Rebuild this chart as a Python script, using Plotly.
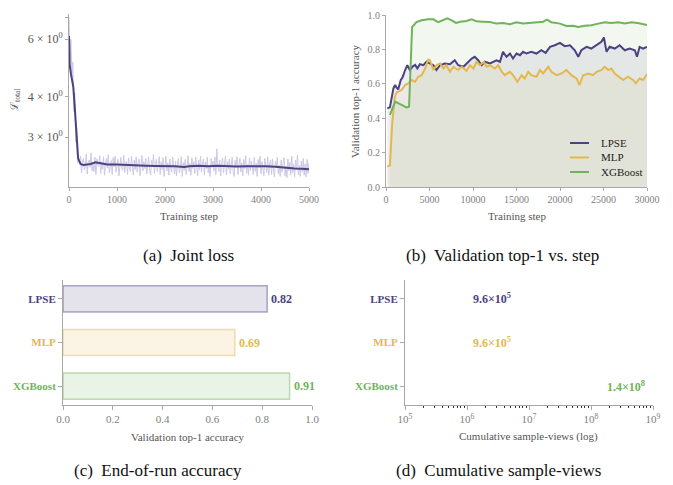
import plotly.graph_objects as go
import numpy as np

# ---------------- data ----------------
# (a) joint loss (raw, every 20 steps) and smoothed curve
loss_raw_steps = list(range(0, 5001, 20))
loss_raw = [
    7.00, 5.20, 6.00, 4.60, 5.10, 3.60, 4.10, 2.90, 3.20, 2.50, 2.60,
    2.48, 2.62, 2.33, 2.51, 2.58, 2.38, 2.44, 2.66, 2.31, 2.50,
    2.55, 2.42, 2.68, 2.36, 2.47, 2.35, 2.60, 2.30, 2.57, 2.45,
    2.44, 2.63, 2.32, 2.52, 2.39, 2.61, 2.29, 2.49, 2.58, 2.41,
    2.65, 2.33, 2.46, 2.54, 2.30, 2.59, 2.43, 2.62, 2.34, 2.51,
    2.56, 2.28, 2.48, 2.60, 2.40, 2.37, 2.64, 2.33, 2.47, 2.53,
    2.30, 2.59, 2.42, 2.35, 2.62, 2.45, 2.29, 2.55, 2.38, 2.61,
    2.34, 2.50, 2.57, 2.28, 2.44, 2.63, 2.36, 2.52, 2.40, 2.58,
    2.31, 2.47, 2.60, 2.37, 2.29, 2.55, 2.43, 2.65, 2.32, 2.49,
    2.56, 2.35, 2.44, 2.61, 2.30, 2.52, 2.38, 2.59, 2.27, 2.46,
    2.62, 2.36, 2.50, 2.29, 2.57, 2.41, 2.34, 2.60, 2.45, 2.31,
    2.53, 2.28, 2.48, 2.58, 2.33, 2.42, 2.61, 2.27, 2.50, 2.37,
    2.56, 2.30, 2.45, 2.63, 2.35, 2.49, 2.29, 2.59, 2.40, 2.52,
    2.32, 2.60, 2.43, 2.28, 2.55, 2.38, 2.62, 2.34, 2.47, 2.57,
    2.29, 2.51, 2.40, 2.60, 2.33, 2.46, 2.27, 2.58, 2.42, 2.53,
    2.36, 2.61, 2.30, 2.76, 2.44, 2.35, 2.55, 2.28, 2.49, 2.59,
    2.33, 2.45, 2.62, 2.29, 2.52, 2.39, 2.57, 2.31, 2.48, 2.60,
    2.35, 2.27, 2.54, 2.42, 2.61, 2.30, 2.46, 2.58, 2.34, 2.50,
    2.28, 2.56, 2.40, 2.63, 2.32, 2.47, 2.29, 2.59, 2.37, 2.53,
    2.43, 2.30, 2.60, 2.35, 2.49, 2.27, 2.56, 2.41, 2.62, 2.31,
    2.52, 2.36, 2.28, 2.58, 2.44, 2.33, 2.61, 2.29, 2.48, 2.55,
    2.30, 2.57, 2.38, 2.26, 2.53, 2.42, 2.60, 2.31, 2.46, 2.27,
    2.55, 2.34, 2.49, 2.59, 2.28, 2.44, 2.25, 2.57, 2.36, 2.51,
    2.29, 2.62, 2.33, 2.47, 2.26, 2.55, 2.38, 2.64, 2.30, 2.45,
    2.27, 2.53, 2.35, 2.58, 2.29, 2.48, 2.26, 2.56, 2.32, 2.50,
]
loss_smooth_steps = [0, 15, 40, 90, 120, 150, 190, 240, 300, 375, 450, 550, 650, 800,
                     1000, 1200, 1400, 1600, 1800, 2000, 2200, 2400, 2500, 2700, 2900,
                     3100, 3300, 3500, 3700, 3900, 4100, 4300, 4500, 4700, 4850, 5000]
loss_smooth = [6.14, 5.00, 4.70, 4.27, 3.70, 3.08, 2.58, 2.48, 2.46, 2.47, 2.48, 2.51, 2.49, 2.47,
               2.47, 2.46, 2.455, 2.45, 2.445, 2.445, 2.44, 2.425, 2.44, 2.45, 2.44,
               2.45, 2.44, 2.435, 2.44, 2.445, 2.44, 2.43, 2.41, 2.40, 2.395, 2.39]

# (b) validation top-1 vs step
lpse_steps = [150, 450, 850, 1050, 1200, 1400, 1700, 1900, 2200, 2450, 2750, 3050, 3350, 3600,
              3900, 4300, 4650, 5050, 5450, 5800, 6200, 6750, 7350, 7900, 8300, 8900, 9250,
              9850, 10200, 10600, 11000, 11350, 11950, 12300, 12700, 13100, 13450, 13850,
              14250, 14600, 15000, 15400, 15750, 16150, 16700, 17300, 17850, 18350, 18850,
              19400, 20000, 20550, 21150, 21700, 22100, 22450, 23050, 23600, 24200, 24750,
              25050, 25350, 25700, 26300, 26850, 27450, 28000, 28600, 28850, 29150, 29550, 30000]
lpse_acc = [0.457, 0.463, 0.573, 0.593, 0.579, 0.567, 0.622, 0.637, 0.680, 0.708, 0.680, 0.700,
            0.710, 0.690, 0.714, 0.708, 0.728, 0.718, 0.708, 0.680, 0.708, 0.718, 0.714, 0.737,
            0.708, 0.699, 0.718, 0.747, 0.757, 0.737, 0.708, 0.728, 0.718, 0.728, 0.737, 0.728,
            0.786, 0.757, 0.776, 0.747, 0.776, 0.766, 0.786, 0.776, 0.786, 0.776, 0.795, 0.780,
            0.815, 0.824, 0.838, 0.819, 0.824, 0.795, 0.757, 0.795, 0.815, 0.805, 0.824, 0.844,
            0.869, 0.786, 0.815, 0.805, 0.824, 0.795, 0.805, 0.795, 0.757, 0.815, 0.805, 0.815]

mlp_steps = [150, 450, 700, 1000, 1200, 1400, 1800, 2200, 2550, 2950, 3350, 3700, 4100, 4500,
             4850, 5050, 5450, 5800, 6200, 6600, 6950, 7350, 7750, 8300, 8700, 9250, 9650,
             10050, 10400, 10800, 11250, 11550, 11950, 12500, 12900, 13300, 13650, 14250,
             14600, 15100, 15600, 15950, 16350, 16700, 17300, 17700, 18050, 18650, 19000,
             19600, 20150, 20750, 21300, 21900, 22250, 22650, 23250, 23800, 24200, 24750,
             25150, 25550, 25900, 26300, 26850, 27250, 27800, 28400, 28700, 29150, 29550, 30000]
mlp_acc = [0.120, 0.125, 0.360, 0.520, 0.550, 0.554, 0.564, 0.593, 0.602, 0.622, 0.612, 0.641,
           0.650, 0.689, 0.741, 0.737, 0.680, 0.708, 0.718, 0.689, 0.708, 0.670, 0.699, 0.680,
           0.699, 0.676, 0.708, 0.689, 0.728, 0.708, 0.728, 0.699, 0.708, 0.689, 0.708, 0.670,
           0.650, 0.670, 0.650, 0.612, 0.650, 0.631, 0.670, 0.650, 0.641, 0.680, 0.660, 0.699,
           0.670, 0.650, 0.660, 0.680, 0.650, 0.631, 0.593, 0.650, 0.660, 0.650, 0.670, 0.680,
           0.699, 0.680, 0.689, 0.660, 0.641, 0.622, 0.641, 0.622, 0.602, 0.631, 0.622, 0.656]

xgb_steps = [450, 1050, 1800, 2350, 2650, 3000, 3500, 4100, 4850, 5450, 6000, 6600, 7050, 7550,
             8050, 8550, 9250, 9850, 10400, 11150, 11950, 12700, 13450, 14250, 15000, 15750,
             16550, 17300, 18050, 18500, 19000, 20000, 20750, 21500, 22100, 22850, 23600,
             24400, 25150, 25900, 26700, 27450, 28200, 28950, 29550, 30000]
xgb_acc = [0.419, 0.496, 0.477, 0.463, 0.467, 0.930, 0.959, 0.969, 0.975, 0.975, 0.959, 0.973,
           0.981, 0.969, 0.954, 0.961, 0.965, 0.975, 0.963, 0.961, 0.959, 0.950, 0.954, 0.946,
           0.958, 0.950, 0.954, 0.958, 0.961, 0.973, 0.958, 0.950, 0.936, 0.938, 0.930, 0.938,
           0.940, 0.950, 0.958, 0.954, 0.958, 0.950, 0.958, 0.954, 0.946, 0.942]

# (c) & (d)
methods = ["LPSE", "MLP", "XGBoost"]
final_acc = [0.82, 0.69, 0.91]
final_acc_text = ["0.82", "0.69", "0.91"]
sample_views = [9.6e5, 9.6e5, 1.4e8]
sample_views_text = ["9.6×10<sup>5</sup>", "9.6×10<sup>5</sup>", "1.4×10<sup>8</sup>"]

# ---------------- style ----------------
SERIF = "Liberation Serif, Times New Roman, DejaVu Serif, serif"
C_LPSE = "#4b4282"
C_MLP = "#e3b84f"
C_XGB = "#6fb35a"
COLORS = [C_LPSE, C_MLP, C_XGB]
AX = "#a8a8a8"
TICK = "#808080"
TITLE = "#555555"
OFF = 8                      # page body margin of the browser
W, H = 673 - OFF, 485 - OFF  # figure size


def rgba(hexc, a):
    h = hexc.lstrip("#")
    return "rgba(%d,%d,%d,%g)" % (int(h[0:2], 16), int(h[2:4], 16), int(h[4:6], 16), a)


def fx(x):
    return (x - OFF) / W


def fy(y):
    return 1 - (y - OFF) / H


def px(x0, x1):
    return [fx(x0), fx(x1)]


def py(top, bottom):
    return [fy(bottom), fy(top)]


fig = go.Figure()

# (a)
fig.add_trace(go.Scatter(x=loss_raw_steps, y=loss_raw, mode="lines",
                         line=dict(color="#cdc9e5", width=1), showlegend=False,
                         xaxis="x", yaxis="y"))
fig.add_trace(go.Scatter(x=loss_smooth_steps, y=loss_smooth, mode="lines",
                         line=dict(color=C_LPSE, width=2), showlegend=False,
                         xaxis="x", yaxis="y"))

# (b) fills
for st, ac, col in [(xgb_steps, xgb_acc, C_XGB), (lpse_steps, lpse_acc, C_LPSE), (mlp_steps, mlp_acc, C_MLP)]:
    fig.add_trace(go.Scatter(x=st, y=ac, mode="lines", fill="tozeroy",
                             fillcolor=rgba(col, 0.09), line=dict(width=0, color=col),
                             showlegend=False, hoverinfo="skip", xaxis="x2", yaxis="y2"))
for st, ac, col, name in [(lpse_steps, lpse_acc, C_LPSE, "LPSE"), (mlp_steps, mlp_acc, C_MLP, "MLP"),
                          (xgb_steps, xgb_acc, C_XGB, "XGBoost")]:
    fig.add_trace(go.Scatter(x=st, y=ac, mode="lines", name=name, showlegend=False,
                             line=dict(color=col, width=2), xaxis="x2", yaxis="y2"))

# (c) bars
fig.add_trace(go.Bar(x=final_acc, y=[0, 1, 2], orientation="h", width=0.6,
                     marker=dict(color=[rgba(c, 0.15) for c in COLORS],
                                 line=dict(color=[rgba(c, 0.45) for c in COLORS], width=1.5)),
                     showlegend=False, xaxis="x3", yaxis="y3"))

common = dict(showline=True, linecolor=AX, linewidth=1, ticks="outside", ticklen=3,
              tickcolor=AX, tickwidth=1, tickfont=dict(family=SERIF, size=10, color=TICK),
              showgrid=False, zeroline=False, automargin=False)

cat_text = ['<b><span style="color:%s">%s</span></b>' % (c, m) for c, m in zip(COLORS, methods)]

fig.update_layout(
    width=W, height=H, margin=dict(l=0, r=0, t=0, b=0, autoexpand=False),
    paper_bgcolor="white", plot_bgcolor="white",
    font=dict(family=SERIF, color="#333333"),
    showlegend=False,
    xaxis=dict(common, domain=px(69, 309), anchor="y", range=[0, 5000],
               tickvals=[0, 1000, 2000, 3000, 4000, 5000], tickformat="d"),
    yaxis=dict(common, domain=py(14, 187), anchor="x", type="log",
               range=[np.log10(2.106), np.log10(7.17)],
               tickvals=[3, 4, 6, 7],
               ticktext=["3 × 10<sup>0</sup>", "4 × 10<sup>0</sup>", "6 × 10<sup>0</sup>", ""],
               tickfont=dict(family=SERIF, size=12, color="#555555")),
    xaxis2=dict(common, domain=px(386, 647), anchor="y2", range=[0, 30000],
                tickvals=[0, 5000, 10000, 15000, 20000, 25000, 30000], tickformat="d"),
    yaxis2=dict(common, domain=py(15, 187), anchor="x2", range=[0, 1],
                tickvals=[0, 0.2, 0.4, 0.6, 0.8, 1.0], tickformat=".1f"),
    xaxis3=dict(common, domain=px(63, 312), anchor="y3", range=[0, 1],
                tickvals=[0, 0.2, 0.4, 0.6, 0.8, 1.0], tickformat=".1f", ticklen=4,
                tickfont=dict(family=SERIF, size=11, color=TICK)),
    yaxis3=dict(common, domain=py(280, 405), anchor="x3", range=[2.43, -0.43],
                tickvals=[0, 1, 2], ticktext=cat_text, ticklen=4,
                tickfont=dict(family=SERIF, size=11, color=TICK)),
    xaxis4=dict(common, domain=px(405, 653), anchor="y4", type="log", range=[5, 9],
                tickvals=[1e5, 1e6, 1e7, 1e8, 1e9],
                ticktext=["10<sup>5</sup>", "10<sup>6</sup>", "10<sup>7</sup>", "10<sup>8</sup>", "10<sup>9</sup>"],
                ticklen=4, tickfont=dict(family=SERIF, size=11, color=TICK),
                minor=dict(ticks="outside", ticklen=2, tickcolor="#333333",
                           tickvals=[m * 10 ** e for e in range(5, 9) for m in range(2, 10)])),
    yaxis4=dict(common, domain=py(280, 405), anchor="x4", range=[2.43, -0.43],
                tickvals=[0, 1, 2], ticktext=cat_text, ticklen=4,
                tickfont=dict(family=SERIF, size=11, color=TICK)),
)

ann = []
shapes = []

# value labels (c) and (d), placed through the axes
for i, (v, t, c) in enumerate(zip(final_acc, final_acc_text, COLORS)):
    ann.append(dict(x=v, y=i, xref="x3", yref="y3", text="<b>%s</b>" % t, showarrow=False,
                    xanchor="left", yanchor="middle", xshift=2,
                    font=dict(family=SERIF, size=12, color=c)))
for i, (v, t, c) in enumerate(zip(sample_views, sample_views_text, COLORS)):
    ann.append(dict(x=np.log10(v), y=i, xref="x4", yref="y4", text="<b>%s</b>" % t, showarrow=False,
                    xanchor="left", yanchor="middle", xshift=5,
                    font=dict(family=SERIF, size=12, color=c)))


def add_text(x, y, text, size, color, angle=0, xanchor="center"):
    ann.append(dict(x=fx(x), y=fy(y), xref="paper", yref="paper", text=text,
                    showarrow=False, xanchor=xanchor, yanchor="middle", textangle=angle,
                    font=dict(family=SERIF, size=size, color=color)))


add_text(189, 216, "Training step", 11, TITLE)
add_text(517, 216, "Training step", 11, TITLE)
add_text(15, 100, "ℒ<sub>total</sub>", 11, TITLE, -90)
add_text(355, 101, "Validation top-1 accuracy", 11, TITLE, -90)
add_text(188, 437, "Validation top-1 accuracy", 11, TITLE)
add_text(528, 436, "Cumulative sample-views (log)", 11, TITLE)
add_text(189, 255, "(a)  Joint loss", 17, "#111111")
add_text(502, 255, "(b)  Validation top-1 vs. step", 17, "#111111")
add_text(158, 470, "(c)  End-of-run accuracy", 17, "#111111")
add_text(499, 470, "(d)  Cumulative sample-views", 17, "#111111")

# manual legend for (b)
for yy, name, col in [(143, "LPSE", C_LPSE), (157.5, "MLP", C_MLP), (172, "XGBoost", C_XGB)]:
    shapes.append(dict(type="line", xref="paper", yref="paper",
                       x0=fx(570), x1=fx(589), y0=fy(yy), y1=fy(yy),
                       line=dict(color=col, width=2)))
    add_text(599, yy, name, 11, "#222222", xanchor="left")

fig.update_layout(annotations=ann, shapes=shapes)

fig.write_html("out.html")
